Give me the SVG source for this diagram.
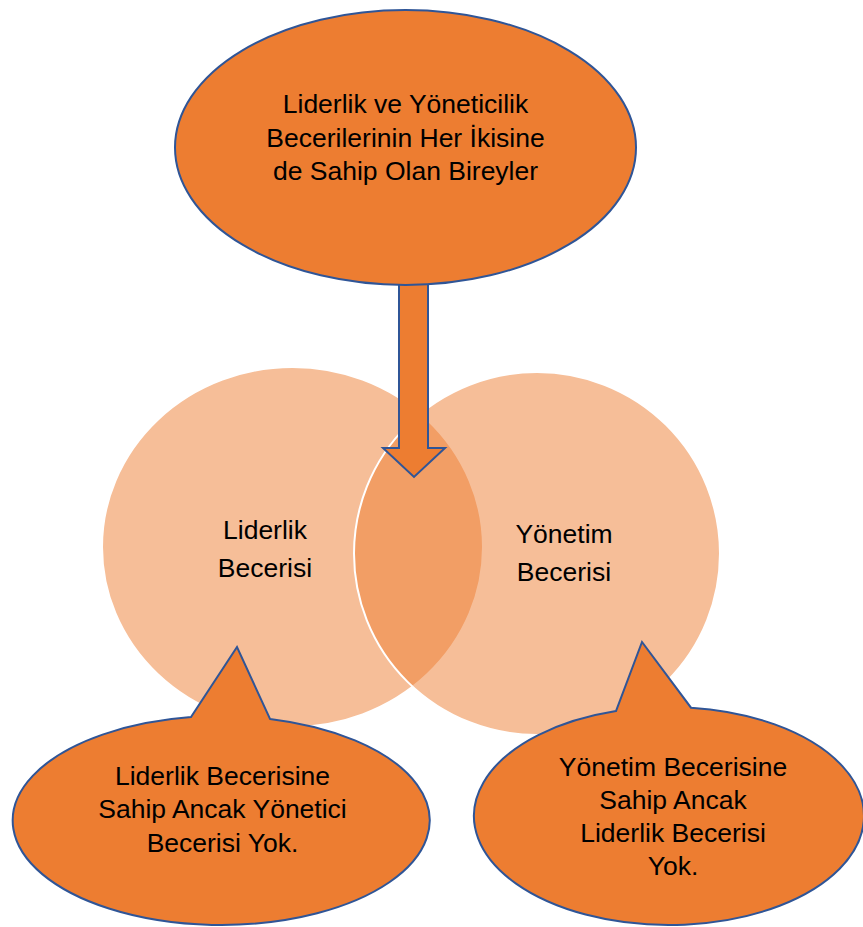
<svg xmlns="http://www.w3.org/2000/svg" width="863" height="927" viewBox="0 0 863 927">
<style>
.venn{fill:#ED7D31;fill-opacity:0.5;stroke:#FFFFFF;stroke-width:2}
.shape{fill:#ED7D31;stroke:#2F5597;stroke-width:2}
.lbl{font-family:"Liberation Sans",Arial,sans-serif;font-size:26.5px;fill:#000000;text-anchor:middle}
</style>
<rect x="0" y="0" width="863" height="927" fill="#FFFFFF"/>
<g id="venn-liderlik">
<ellipse class="venn" cx="292.5" cy="547" rx="190.5" ry="180"/>
</g>
<g id="venn-yonetim">
<ellipse class="venn" cx="537" cy="553.5" rx="183" ry="181.5"/>
</g>
<g id="connectors">
<polygon class="shape" points="399,280 428,280 428,448 445,448 414,477 383,448 399,448"/>
</g>
<g id="node-top">
<ellipse class="shape" cx="405.5" cy="147.5" rx="230.5" ry="137.5"/>
<text class="lbl" x="405.5" y="113">Liderlik ve Yöneticilik</text>
<text class="lbl" x="405.5" y="146.5">Becerilerinin Her İkisine</text>
<text class="lbl" x="405.5" y="180">de Sahip Olan Bireyler</text>
</g>
<g id="label-liderlik">
<text class="lbl" x="265" y="539">Liderlik</text>
<text class="lbl" x="265" y="577">Becerisi</text>
</g>
<g id="label-yonetim">
<text class="lbl" x="564" y="543">Yönetim</text>
<text class="lbl" x="564" y="581">Becerisi</text>
</g>
<g id="callout-left">
<path class="shape" d="M 270 718.9 A 208.5 104.5 0 1 1 191 717.1 L 237 647 Z"/>
<text class="lbl" x="222.5" y="785">Liderlik Becerisine</text>
<text class="lbl" x="222.5" y="818">Sahip Ancak Yönetici</text>
<text class="lbl" x="222.5" y="851.5">Becerisi Yok.</text>
</g>
<g id="callout-right">
<path class="shape" d="M 691 707.7 A 195 109 0 1 1 616 711.1 L 642 642 Z"/>
<text class="lbl" x="673" y="775.5">Yönetim Becerisine</text>
<text class="lbl" x="673" y="808.5">Sahip Ancak</text>
<text class="lbl" x="673" y="841.5">Liderlik Becerisi</text>
<text class="lbl" x="673" y="875">Yok.</text>
</g>
</svg>
